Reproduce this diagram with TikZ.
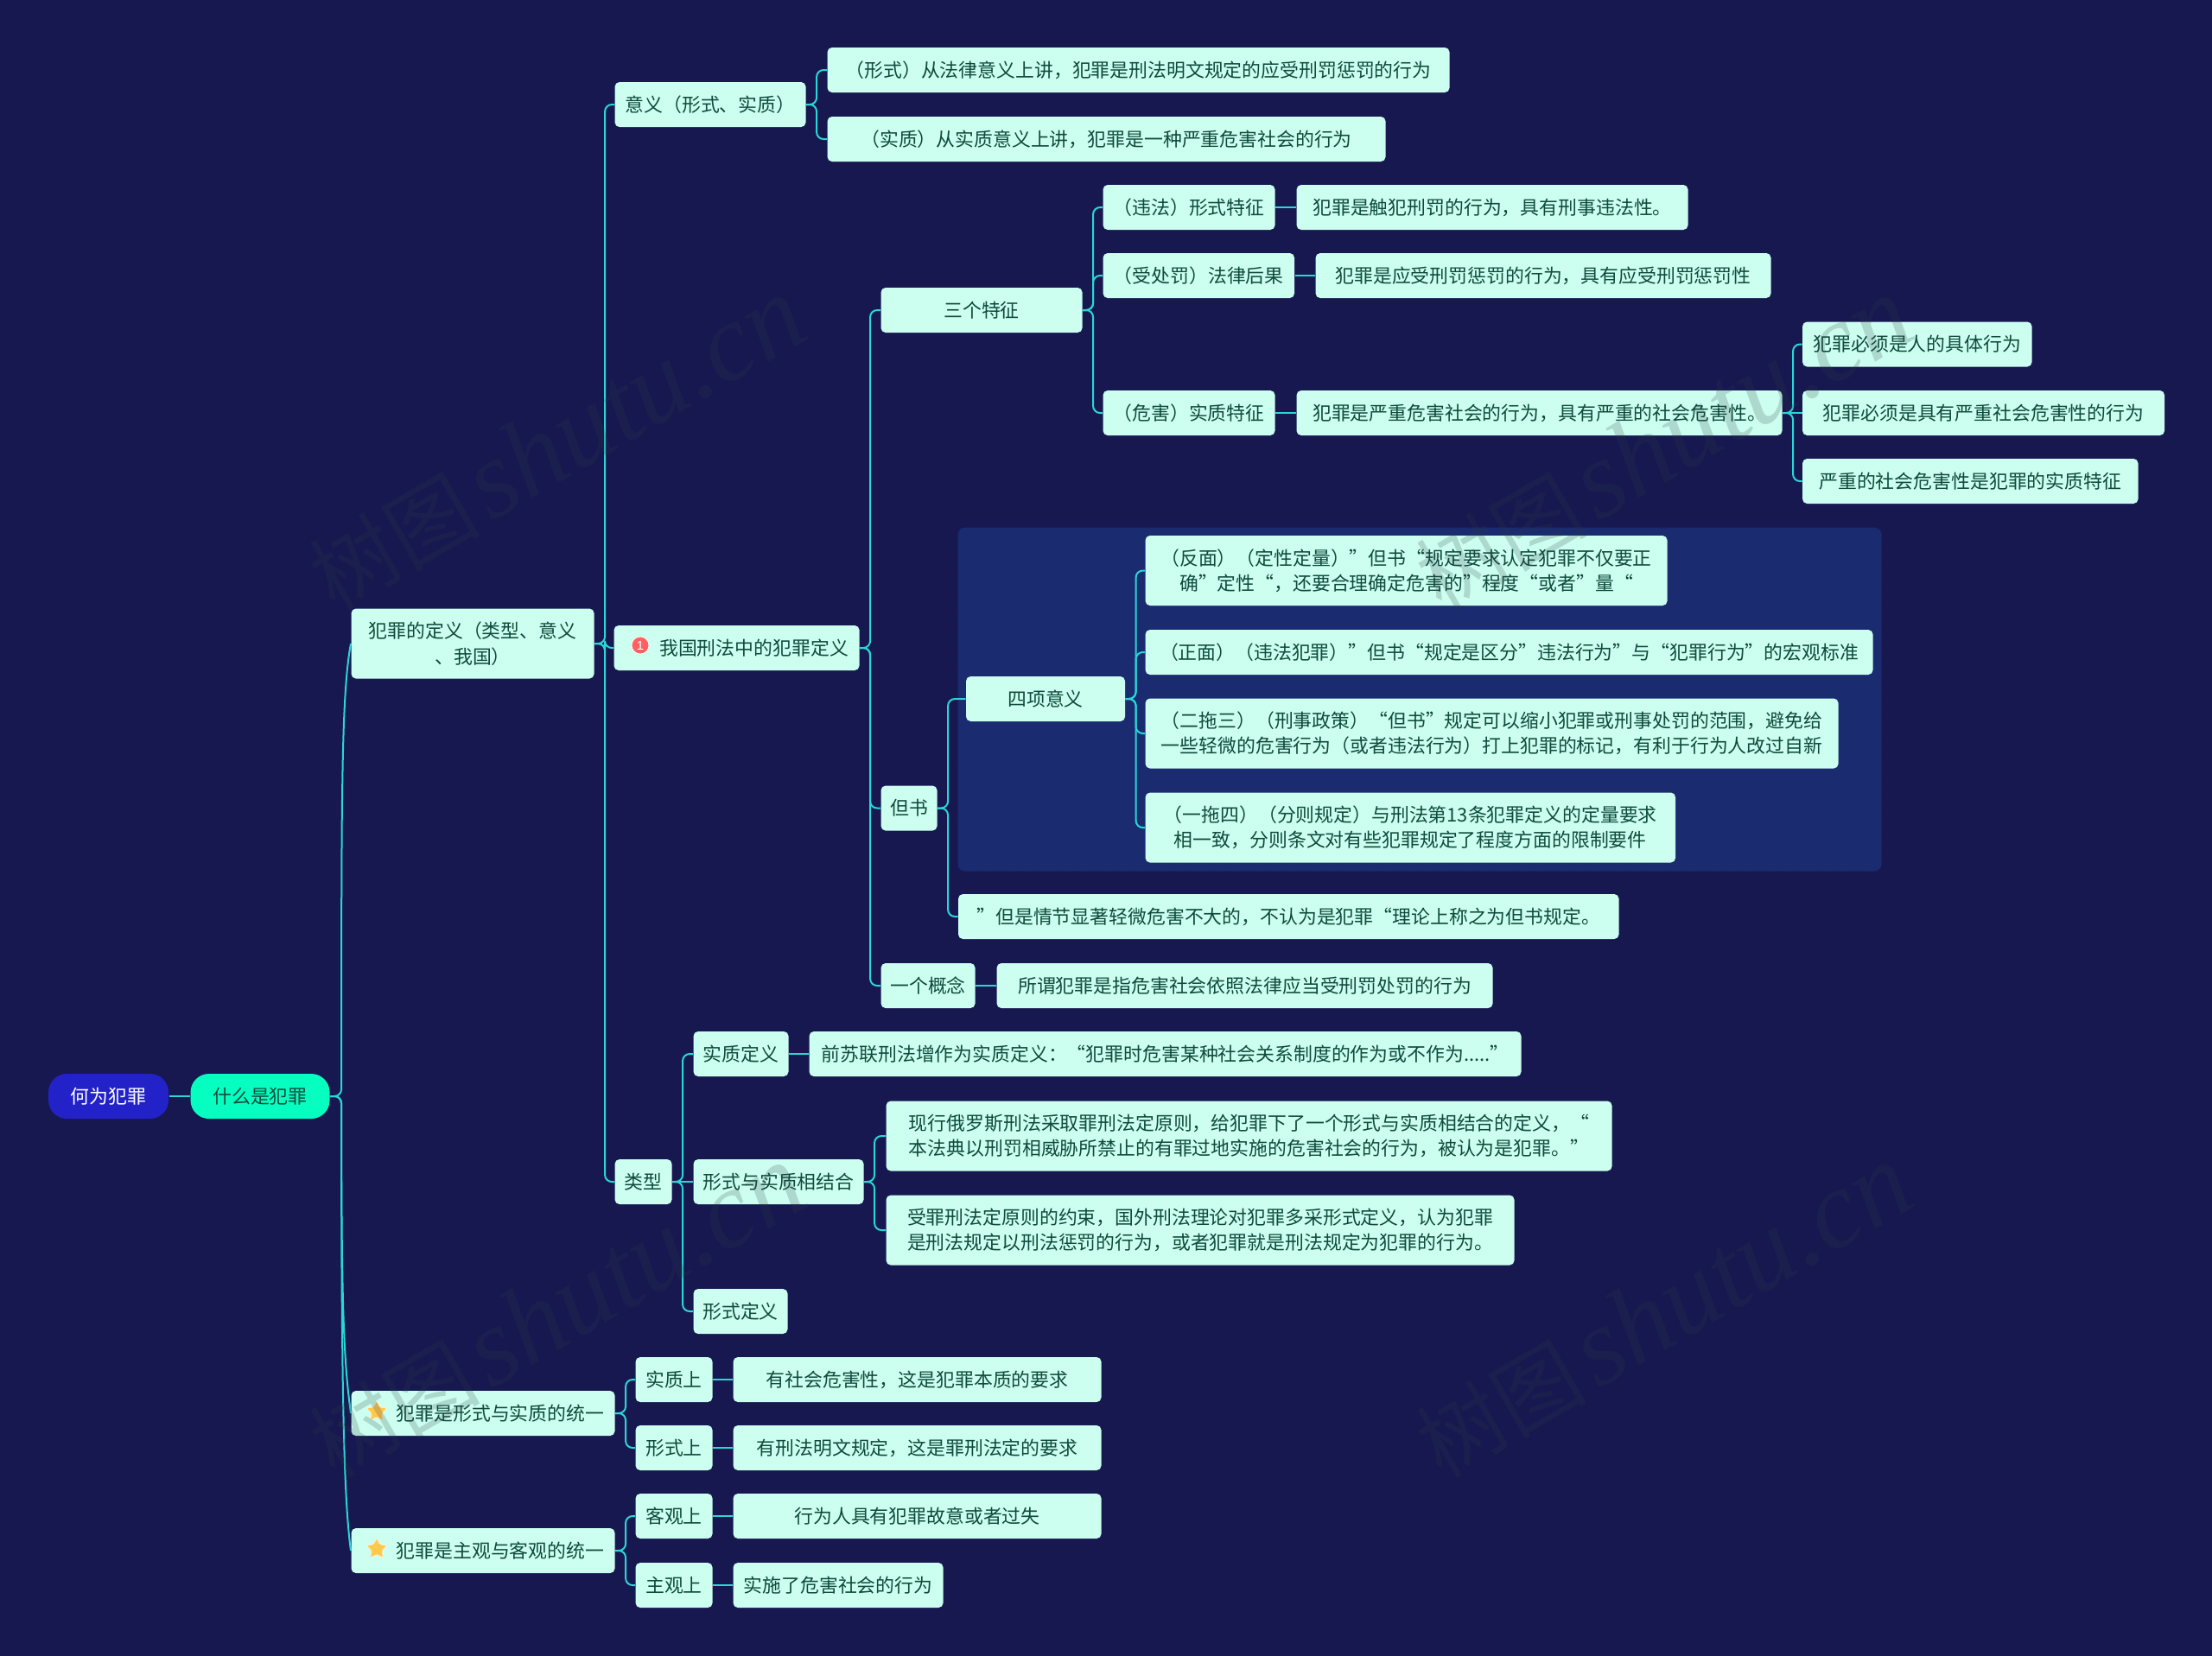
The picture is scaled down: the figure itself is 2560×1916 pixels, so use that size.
\documentclass[tikz,border=0pt]{standalone}
\usepackage{fontspec}
\setmainfont{Noto Sans CJK SC}
\newfontfamily\wmcjk{Noto Sans CJK SC}
\newfontfamily\wmlat{Liberation Serif}[ItalicFont=Liberation Serif Italic]
\newfontfamily\numfont{Liberation Sans}
\usetikzlibrary{calc,shapes.geometric}
\definecolor{bgc}{HTML}{171850}
\definecolor{boxc}{HTML}{CCFFF0}
\definecolor{txtc}{HTML}{0F4A3C}
\definecolor{linec}{HTML}{2AD6D6}
\definecolor{panelc}{HTML}{1A2B70}
\definecolor{rootc}{HTML}{2222C8}
\definecolor{seedc}{HTML}{06FFC1}
\definecolor{wmc}{HTML}{2C3C44}
\definecolor{starc}{HTML}{FFC94D}
\tikzset{
  x=0.375pt,y=-0.375pt,
  kb/.style={rectangle,rounded corners=2pt,fill=boxc,text=txtc,inner sep=0pt,align=center,anchor=west,
    font=\fontsize{8.2}{11}\selectfont},
  rootb/.style={kb,rounded corners=8pt,fill=rootc,text=white},
  seedb/.style={kb,rounded corners=8pt,fill=seedc},
  elbow/.style={draw=linec,line width=0.75pt,rounded corners=3pt},
  strt/.style={draw=linec,line width=1.05pt},
  wm/.style={rotate=30,text=wmc,opacity=0.2,inner sep=0pt},
  badge/.style={circle,fill=red!62!white,draw=white,line width=0.3pt,inner sep=0pt,minimum size=7.5pt,text=white,
    font=\numfont\fontsize{5.5}{5.5}\selectfont},
  staric/.style={star,star points=5,star point ratio=2,fill=starc,draw=white!70!starc,line width=0.3pt,
    inner sep=0pt,minimum size=9.5pt,rounded corners=0.6pt},
}
\newcommand\kbox[7][kb]{\node[#1,minimum width={(#4-#3)*0.375pt},minimum height={#6*0.375pt}] (#2) at (#3,#5) {#7};}
\newcommand\elb[2]{\draw[elbow] (#1.east) -- ++(12,0) |- (#2.west);}
\newcommand\lnk[2]{\draw[strt] (#1.east) -- (#2.west);}
\newcommand\iconpad{\hspace*{15pt}}
\newcommand\wmtext{{\wmcjk\fontsize{37}{37}\selectfont 树图}\hspace{4pt}{\wmlat\itshape\fontsize{48}{48}\selectfont shutu.cn}}
\begin{document}
\begin{tikzpicture}
\useasboundingbox (0,0) rectangle (2560,1916);
\fill[bgc] (-10,-10) rectangle (2570,1926);
\node[rectangle,rounded corners=3pt,fill=panelc,draw=bgc!60!panelc,dashed,line width=0.4pt,inner sep=0pt,anchor=north west,
  minimum width={1069*0.375pt},minimum height={398*0.375pt}] (panel) at (1108,610) {};
% nodes
\kbox[rootb]{root}{55.5}{194.5}{1269}{52}{何为犯罪}
\kbox[seedb]{seed}{220}{381}{1269}{52}{什么是犯罪}
\kbox{def}{406}{687}{745}{81}{犯罪的定义（类型、意义\\、我国）}
\kbox{unityA}{406}{711}{1636}{52}{\iconpad 犯罪是形式与实质的统一}
\kbox{unityB}{406}{711}{1795}{52}{\iconpad 犯罪是主观与客观的统一}
\kbox{meaning}{711}{932}{121}{52}{意义（形式、实质）}
\kbox{ours}{710}{994}{750}{52}{\iconpad 我国刑法中的犯罪定义}
\kbox{kinds}{711}{777}{1368}{52}{类型}
\kbox{mForm}{957}{1677}{81}{52}{（形式）从法律意义上讲，犯罪是刑法明文规定的应受刑罚惩罚的行为}
\kbox{mSub}{957}{1603}{161}{52}{（实质）从实质意义上讲，犯罪是一种严重危害社会的行为}
\kbox{three}{1019}{1252}{359}{52}{三个特征}
\kbox{proviso}{1019}{1084}{935.5}{52}{但书}
\kbox{concept}{1019}{1128}{1141}{52}{一个概念}
\kbox{tA}{1276}{1475}{240}{52}{（违法）形式特征}
\kbox{tAx}{1500}{1953}{240}{52}{犯罪是触犯刑罚的行为，具有刑事违法性。}
\kbox{tB}{1276}{1497.5}{319}{52}{（受处罚）法律后果}
\kbox{tBx}{1522}{2049}{319}{52}{犯罪是应受刑罚惩罚的行为，具有应受刑罚惩罚性}
\kbox{tC}{1276}{1475}{478}{52}{（危害）实质特征}
\kbox{tCx}{1500}{2062}{478}{52}{犯罪是严重危害社会的行为，具有严重的社会危害性。}
\kbox{cA}{2085.5}{2351}{398.5}{52}{犯罪必须是人的具体行为}
\kbox{cB}{2085.5}{2504.5}{478}{52}{犯罪必须是具有严重社会危害性的行为}
\kbox{cC}{2085.5}{2474}{557}{52}{严重的社会危害性是犯罪的实质特征}
\kbox{four}{1117.5}{1301.5}{809}{52}{四项意义}
\kbox{fA}{1325}{1929}{660.5}{81}{（反面）（定性定量）”但书“规定要求认定犯罪不仅要正\\确”定性“，还要合理确定危害的”程度“或者”量“}
\kbox{fB}{1325}{2167}{755}{52}{（正面）（违法犯罪）”但书“规定是区分”违法行为”与“犯罪行为”的宏观标准}
\kbox{fC}{1325}{2127}{849}{81}{（二拖三）（刑事政策）“但书”规定可以缩小犯罪或刑事处罚的范围，避免给\\一些轻微的危害行为（或者违法行为）打上犯罪的标记，有利于行为人改过自新}
\kbox{fD}{1325}{1938.5}{958}{81}{（一拖四）（分则规定）与刑法第13条犯罪定义的定量要求\\相一致，分则条文对有些犯罪规定了程度方面的限制要件}
\kbox{pText}{1108.5}{1873}{1061}{52}{”但是情节显著轻微危害不大的，不认为是犯罪“理论上称之为但书规定。}
\kbox{cText}{1153}{1727}{1141}{52}{所谓犯罪是指危害社会依照法律应当受刑罚处罚的行为}
\kbox{kSub}{802}{912}{1220}{52}{实质定义}
\kbox{kSubx}{936}{1760}{1220}{52}{前苏联刑法增作为实质定义：“犯罪时危害某种社会关系制度的作为或不作为.....”}
\kbox{kMix}{802}{999}{1368}{52}{形式与实质相结合}
\kbox{kMixA}{1025}{1865}{1315}{81}{现行俄罗斯刑法采取罪刑法定原则，给犯罪下了一个形式与实质相结合的定义，“\\本法典以刑罚相威胁所禁止的有罪过地实施的危害社会的行为，被认为是犯罪。”}
\kbox{kMixB}{1025}{1752}{1424}{81}{受罪刑法定原则的约束，国外刑法理论对犯罪多采形式定义，认为犯罪\\是刑法规定以刑法惩罚的行为，或者犯罪就是刑法规定为犯罪的行为。}
\kbox{kForm}{802}{911}{1518}{52}{形式定义}
\kbox{uAs}{735}{824}{1597}{52}{实质上}
\kbox{uAsx}{848}{1274}{1597}{52}{有社会危害性，这是犯罪本质的要求}
\kbox{uAf}{735}{824}{1676}{52}{形式上}
\kbox{uAfx}{848}{1274}{1676}{52}{有刑法明文规定，这是罪刑法定的要求}
\kbox{uBo}{735}{824}{1755}{52}{客观上}
\kbox{uBox}{848}{1274}{1755}{52}{行为人具有犯罪故意或者过失}
\kbox{uBs}{735}{824}{1835}{52}{主观上}
\kbox{uBsx}{848}{1091}{1835}{52}{实施了危害社会的行为}
% icons
\node[badge] (icOne) at (741,747) {1};
\node[staric] (icStarA) at (436,1634) {};
\node[staric] (icStarB) at (436,1793) {};
% connectors
\draw[strt] (root.east) -- (seed.west);
\draw[elbow] (seed.east) -- ++(13,0) .. controls +(0,-350) and ($(def.west)+(-11,60)$) .. (def.west);
\draw[elbow] (seed.east) -- ++(13,0) .. controls +(0,250) and ($(unityA.west)+(-8,-60)$) .. (unityA.west);
\draw[elbow] (seed.east) -- ++(13,0) .. controls +(0,350) and ($(unityB.west)+(-8,-60)$) .. (unityB.west);
\elb{def}{meaning}\elb{def}{ours}\elb{def}{kinds}
\elb{meaning}{mForm}\elb{meaning}{mSub}
\elb{ours}{three}\elb{ours}{proviso}\elb{ours}{concept}
\elb{three}{tA}\elb{three}{tB}\elb{three}{tC}
\lnk{tA}{tAx}\lnk{tB}{tBx}\lnk{tC}{tCx}
\elb{tCx}{cA}\lnk{tCx}{cB}\elb{tCx}{cC}
\elb{proviso}{four}\elb{proviso}{pText}
\elb{four}{fA}\elb{four}{fB}\elb{four}{fC}\elb{four}{fD}
\lnk{concept}{cText}
\elb{kinds}{kSub}\lnk{kinds}{kMix}\elb{kinds}{kForm}
\lnk{kSub}{kSubx}
\elb{kMix}{kMixA}\elb{kMix}{kMixB}
\elb{unityA}{uAs}\elb{unityA}{uAf}\elb{unityB}{uBo}\elb{unityB}{uBs}
\lnk{uAs}{uAsx}\lnk{uAf}{uAfx}\lnk{uBo}{uBox}\lnk{uBs}{uBsx}
% watermarks
\node[wm] (wmA) at (644,514) {\wmtext};
\node[wm] (wmB) at (1925,514) {\wmtext};
\node[wm] (wmC) at (644,1518) {\wmtext};
\node[wm] (wmD) at (1925,1518) {\wmtext};
\end{tikzpicture}
\end{document}
